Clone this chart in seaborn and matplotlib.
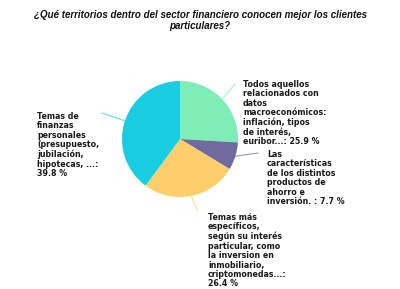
import numpy as np
import matplotlib
matplotlib.use("Agg")
import matplotlib.pyplot as plt
import seaborn as sns

# survey answers, clockwise from 12 o'clock
labels = [
    "Todos aquellos\nrelacionados con\ndatos\nmacroeconómicos:\ninflación, tipos\nde interés,\neuribor...: 25.9 %",
    "Las\ncaracterísticas\nde los distintos\nproductos de\nahorro e\ninversión. : 7.7 %",
    "Temas más\nespecíficos,\nsegún su interés\nparticular, como\nla inversion en\ninmobiliario,\ncriptomonedas...:\n26.4 %",
    "Temas de\nfinanzas\npersonales\n(presupuesto,\njubilación,\nhipotecas, ...:\n39.8 %",
]
shares = [25.9, 7.7, 26.4, 39.8]
colors = ["#7eedb6", "#6f6b9f", "#fdce6c", "#18cce2"]

title = "¿Qué territorios dentro del sector financiero conocen mejor los clientes\nparticulares?"

# layout in pixel units (y measured from the top)
W, H = 400, 289
center = (180, 139)
radius = 58
text_pos = [(243, 80), (267, 150), (208, 213), (37, 112)]
line_end = [(235, 84), (258, 153), (197, 210), (102, 113)]

sns.set_style("white")
plt.rcParams['font.family'] = ['DejaVu Sans']

fig = plt.figure(figsize=(W / 100, H / 100), dpi=100)
ax = fig.add_axes([0, 0, 1, 1])

cx, cy = center[0], H - center[1]
wedges, _ = ax.pie(shares, colors=colors, startangle=90, counterclock=False,
                   center=(cx, cy), radius=radius, frame=True,
                   wedgeprops=dict(linewidth=0))
ax.set_xlim(0, W)
ax.set_ylim(0, H)
ax.set_aspect("equal")
ax.axis("off")

for w, lab, tp, le, col in zip(wedges, labels, text_pos, line_end, colors):
    mid = np.deg2rad((w.theta1 + w.theta2) / 2)
    x0 = cx + radius * np.cos(mid)
    y0 = cy + radius * np.sin(mid)
    ax.plot([x0, le[0]], [y0, H - le[1]], color=col, lw=0.8, alpha=0.7)
    ax.text(tp[0], H - tp[1], lab, ha="left", va="top", fontsize=5.7,
            fontweight="bold", color="#1a1a1a", linespacing=1.06)

fig.text(0.5, 1 - 10 / H, title, ha="center", va="top", fontsize=7.0,
         fontweight="bold", fontstyle="italic", family="Liberation Sans",
         color="#111111", linespacing=1.12)

fig.savefig("out.png", dpi=100)
